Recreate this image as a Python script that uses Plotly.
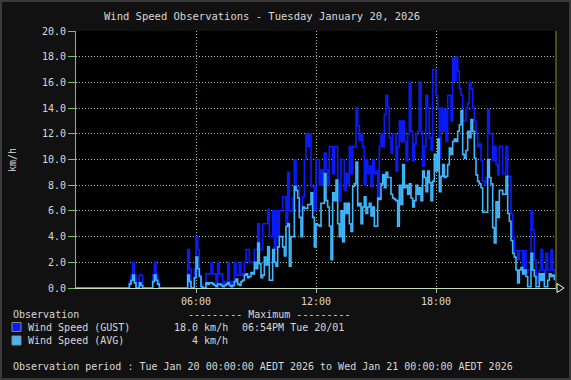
import plotly.graph_objects as go

# ---- data (5-minute observations, km/h) ----
INTERVAL_MIN = 5
gust_by_hour = [
    [0]*12,
    [0]*12,
    [0, 0, 0, 0, 0, 0, 0, 0, 0.5, 1.0, 2.0, 1.0],
    [0, 0, 1.0, 1.0, 0, 0, 0, 0, 0, 0, 1.0, 2.0],
    [1.0, 0.5, 0, 0, 0, 0, 0, 0, 0, 0, 0, 0],
    [0, 0, 0, 0, 0, 0, 0, 3.0, 1.5, 0, 0, 1.5],
    [4.0, 3.0, 1.0, 0.3, 0, 0, 1.1, 1.1, 1.1, 2.0, 1.1, 1.1],
    [0.3, 2.0, 1.1, 1.1, 0.3, 0.5, 0.5, 2.0, 0.5, 0.3, 0.5, 2.0],
    [1.0, 1.0, 2.0, 1.0, 1.1, 2.0, 3.0, 3.0, 2.0, 2.0, 2.0, 3.0],
    [3.0, 5.0, 3.0, 3.0, 5.0, 5.0, 5.0, 6.1, 4.0, 4.0, 6.0, 3.0],
    [6.0, 4.0, 6.0, 6.0, 7.1, 7.1, 5.0, 9.0, 6.0, 6.0, 7.0, 10.0],
    [7.9, 7.9, 6.0, 6.0, 7.1, 10.0, 12.0, 11.0, 12.0, 7.9, 7.9, 6.0],
    [10, 10, 8, 9.2, 8, 10.5, 9.2, 8, 11, 11, 8.9, 11],
    [11, 8, 6.8, 10, 10, 7.6, 8.9, 8.1, 11, 8.9, 11, 11],
    [14, 12.6, 11.5, 12, 11, 8.0, 10, 8.9, 9.5, 7.9, 10, 8.9],
    [9.1, 7, 11, 12, 11, 13.5, 15, 14, 11.7, 10.5, 12, 12],
    [9.1, 11, 13, 11.4, 13, 11.4, 9.9, 12, 16, 12.2, 9.9, 11.2],
    [12, 12.2, 16, 12.2, 9.5, 11, 15, 14, 11.7, 10.7, 17, 17],
    [15, 14, 10.1, 14, 12.2, 13.9, 11.4, 15, 15, 13, 17.9, 16.1],
    [18.0, 16.9, 15.5, 15, 13, 13, 14, 14.4, 16, 15.5, 14, 13],
    [12.1, 11, 11.2, 9.9, 8.3, 8.1, 8.6, 13.9, 12, 12, 9.9, 11],
    [9.6, 8.8, 11, 11, 8.9, 8.9, 11, 8.7, 8.7, 5.8, 4.0, 2.9],
    [2.9, 2.2, 2.9, 2.9, 1.4, 2.9, 1.2, 1.4, 1.4, 6.0, 4.5, 2.2],
    [0.9, 0.4, 1.4, 3.0, 1.4, 1.2, 2.7, 1.4, 1.4, 3.0, 1.4, 1.2],
]
avg_by_hour = [
    [0]*12,
    [0]*12,
    [0, 0, 0, 0, 0, 0, 0, 0, 0.3, 0.6, 1.0, 0.4],
    [0, 0, 0.4, 0.2, 0, 0, 0, 0, 0, 0, 0.5, 1.0],
    [0.6, 0.3, 0, 0, 0, 0, 0, 0, 0, 0, 0, 0],
    [0, 0, 0, 0, 0, 0, 0, 1.0, 0.5, 0, 0, 0.8],
    [2.4, 1.5, 0.9, 0.1, 0, 0, 0.4, 0.3, 0.4, 0.4, 0.3, 0.2],
    [0.1, 0.3, 0.3, 0.2, 0.1, 0.2, 0.3, 0.4, 0.2, 0.1, 0.2, 0.5],
    [0.7, 0.3, 0.2, 0.5, 0.6, 1.0, 1.1, 0.8, 0.9, 1.2, 1.1, 2.0],
    [1.5, 3.5, 1.9, 0.8, 1.0, 2.4, 1.8, 3.2, 0.6, 0.6, 3.0, 2.0],
    [1.7, 3.2, 4.0, 4.0, 3.2, 2.5, 4.8, 5.0, 1.7, 4.0, 4.0, 7.9],
    [7.6, 7.0, 5.5, 4.0, 6.3, 6.2, 6.2, 6.5, 6.5, 7.4, 5.5, 3.2],
    [5.0, 4.9, 4.8, 6.6, 6.6, 8.9, 6.8, 6.3, 4.8, 2.2, 7.4, 6.8],
    [8.4, 5.0, 4.0, 6.0, 3.6, 6.6, 5.8, 6.6, 5.0, 4.4, 7.9, 8.1],
    [9.8, 6.4, 6.6, 5.0, 6.3, 7.1, 5.8, 6.3, 6.6, 5.6, 6.3, 4.8],
    [4.8, 7.0, 6.9, 8.1, 8.8, 7.8, 9.0, 8.6, 8.6, 7.3, 7.0, 6.9],
    [6.8, 4.8, 8.0, 6.5, 9.6, 7.8, 8.0, 7.3, 8.1, 7.0, 6.3, 6.8],
    [8.0, 7.3, 7.8, 6.8, 9.1, 8.6, 7.5, 9.1, 8.2, 6.8, 8.3, 10.4],
    [9.1, 11.6, 7.5, 8.7, 9.6, 8.6, 8.7, 9.6, 10.9, 10.4, 11.4, 11.6],
    [11.4, 12.2, 12.7, 13.8, 10.4, 10.1, 10.7, 12.2, 11.7, 13.1, 12.2, 10.1],
    [8.8, 8.3, 8.1, 7.8, 5.9, 5.9, 5.9, 10.0, 8.6, 8.1, 4.7, 3.5],
    [6.7, 5.5, 7.6, 7.6, 7.3, 7.3, 8.7, 5.8, 5.2, 3.7, 2.7, 2.4],
    [1.4, 0.4, 1.4, 1.6, 1.1, 1.4, 0.9, 0.1, 0.1, 2.7, 1.4, 0.9],
    [0.1, 0.1, 1.1, 0.6, 1.1, 0.1, 0.1, 0.6, 1.1, 0.9, 1.0, 0.6],
]
tick_hours = [6, 12, 18]
tick_labels = ["06:00", "12:00", "18:00"]
y_ticks = [0, 2, 4, 6, 8, 10, 12, 14, 16, 18, 20]

gust = [v for row in gust_by_hour for v in row]
avg = [v for row in avg_by_hour for v in row]
hours = [i * INTERVAL_MIN / 60 for i in range(len(gust))]

FONT = "DejaVu Sans Mono"
TXT = "#d8d8d8"
GRID = "#a4c898"
GUST_C = "#0a1cff"
AVG_C = "#40b8ff"

# plot area in pixels: x 76..556, y 31..288
L, R, T, B = 76, 556, 31, 288
def px(x):
    return (x - L) / (R - L)
def py(y):
    return (B - y) / (B - T)

fig = go.Figure()
fig.add_trace(go.Scatter(x=hours, y=gust, mode="lines", line=dict(color=GUST_C, width=1.6, shape="hv"),
                         name="Wind Speed (GUST)", showlegend=False))
fig.add_trace(go.Scatter(x=hours, y=avg, mode="lines", line=dict(color=AVG_C, width=1.6, shape="hv"),
                         name="Wind Speed (AVG)", showlegend=False))

fig.update_layout(
    width=571, height=380,
    margin=dict(l=L, r=571 - R, t=T, b=380 - B),
    paper_bgcolor="#111111", plot_bgcolor="#000000",
    font=dict(family=FONT, size=10, color=TXT),
    showlegend=False,
)
fig.update_xaxes(range=[0, 24], tickvals=tick_hours, ticktext=tick_labels,
                 showgrid=True, gridcolor=GRID, griddash="1px,2px", gridwidth=1,
                 ticks="outside", ticklen=4, tickcolor=GRID,
                 showline=True, linecolor="#c8dcc0", linewidth=1,
                 zeroline=False, tickfont=dict(family=FONT, size=10, color=TXT))
fig.update_yaxes(range=[0, 20], tickvals=y_ticks, tickformat=".1f",
                 showgrid=True, gridcolor=GRID, griddash="1px,2px", gridwidth=1,
                 ticks="outside", ticklen=7, tickcolor="#7fbf6f",
                 showline=True, linecolor="#7fbf6f", linewidth=1,
                 zeroline=False, tickfont=dict(family=FONT, size=10, color=TXT))

shapes = [
    # outer frame
    dict(type="rect", xref="paper", yref="paper", x0=px(1), x1=px(570), y0=py(379), y1=py(1),
         line=dict(color="#3a3a3a", width=2), fillcolor="rgba(0,0,0,0)", layer="below"),
    # right boundary
    dict(type="line", xref="paper", yref="paper", x0=1, x1=1, y0=0, y1=1,
         line=dict(color="#8c8c2c", width=1)),
    # axis arrow
    dict(type="path", xref="paper", yref="paper",
         path=f"M {px(557)} {py(283.5)} L {px(564)} {py(288)} L {px(557)} {py(292.5)} Z",
         line=dict(color="#ffffff", width=1), fillcolor="#111111"),
    # legend squares
    dict(type="rect", xref="paper", yref="paper", x0=px(12), x1=px(21), y0=py(331.5), y1=py(322.5),
         line=dict(color="#888888", width=1), fillcolor=GUST_C),
    dict(type="rect", xref="paper", yref="paper", x0=px(12), x1=px(21), y0=py(345), y1=py(336),
         line=dict(color="#888888", width=1), fillcolor=AVG_C),
]
fig.update_layout(shapes=shapes)

def note(text, x, y, xanchor="left", size=10, textangle=0):
    return dict(text=text, x=px(x), y=py(y), xref="paper", yref="paper", showarrow=False,
                xanchor=xanchor, yanchor="middle", textangle=textangle,
                font=dict(family=FONT, size=size, color=TXT))

ann = [
    note("Wind Speed Observations - Tuesday January 20, 2026", 262, 16, "center", 10.5),
    note("km/h", 12, 160, "center", 10, -90),
    note("Observation", 11, 314),
    note("--------- Maximum ---------", 186, 314),
    note("Wind Speed (GUST)", 26, 327),
    note("18.0 km/h", 230, 327, "right"),
    note("06:54PM Tue 20/01", 240, 327),
    note("Wind Speed (AVG)", 26, 340.5),
    note("4 km/h", 230, 340.5, "right"),
    note("Observation period : Tue Jan 20 00:00:00 AEDT 2026 to Wed Jan 21 00:00:00 AEDT 2026", 11, 366.5),
]
fig.update_layout(annotations=ann)

fig.write_html("out.html", config=dict(displayModeBar=False),
               post_script="document.body.style.margin='0';document.body.style.background='#111111';")
